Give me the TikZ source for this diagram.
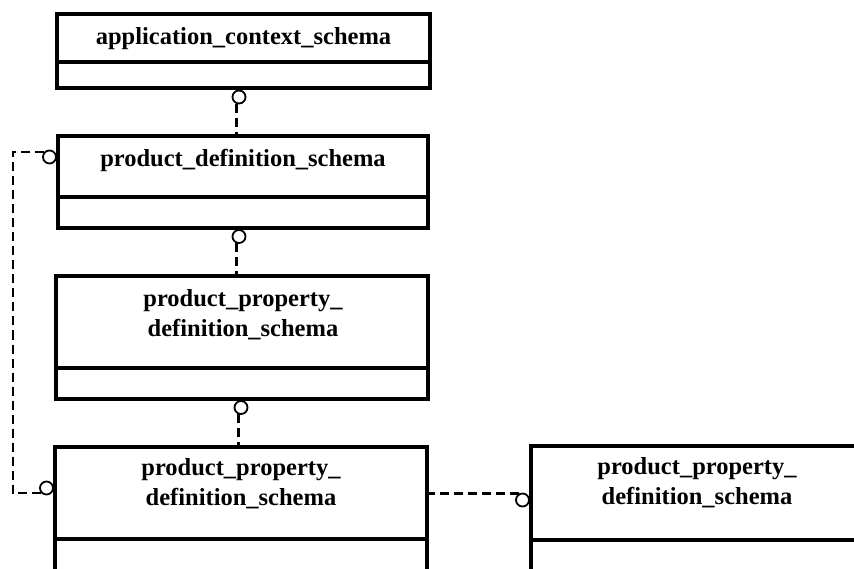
\documentclass[tikz,border=0pt]{standalone}
\usepackage{fontspec}
\setmainfont{Liberation Serif}
\usetikzlibrary{calc}
\begin{document}
\begin{tikzpicture}[x=1pt,y=-1pt,
  comp/.style={draw, line width=3.4pt, rectangle, inner sep=0pt, outer sep=0pt, anchor=north west},
  lbl/.style={font=\fontsize{24.5}{30}\selectfont\bfseries, align=center, inner sep=0pt, anchor=base},
  ball/.style={draw, circle, fill=white, line width=1.8pt, minimum size=13pt, inner sep=0pt},
  conn/.style={dash pattern=on 9pt off 5pt, line width=2.2pt}]
\useasboundingbox (0,0) rectangle (854,569);
% boxes
\node[comp, minimum width=373pt, minimum height=48pt] (b1t) at (57,14) {};
\node[comp, minimum width=373pt, minimum height=26pt] (b1b) at (b1t.south west) {};
\node[comp, minimum width=370pt, minimum height=61pt] (b2t) at (58,136) {};
\node[comp, minimum width=370pt, minimum height=31pt] (b2b) at (b2t.south west) {};
\node[comp, minimum width=372pt, minimum height=92pt] (b3t) at (56,276) {};
\node[comp, minimum width=372pt, minimum height=31pt] (b3b) at (b3t.south west) {};
\node[comp, minimum width=372pt, minimum height=92pt] (b4t) at (55,447) {};
\node[comp, minimum width=372pt, minimum height=32pt] (b4b) at (b4t.south west) {};
\node[comp, minimum width=340pt, minimum height=94pt] (b5t) at (531,446) {};
\node[comp, minimum width=340pt, minimum height=31pt] (b5b) at (b5t.south west) {};
% labels (base = last line's baseline)
\node[lbl] (t1) at (243.5,45) {application\_context\_schema};
\node[lbl] (t2) at (243,167) {product\_definition\_schema};
\node[lbl] (t3) at (243,337) {product\_property\_\\definition\_schema};
\node[lbl] (t4) at (241,505) {product\_property\_\\definition\_schema};
\node[lbl] (t5) at (697,504) {product\_property\_\\definition\_schema};
% circles
\node[ball] (c1) at (239,97) {};
\node[ball] (c2) at (239,236.5) {};
\node[ball] (c3) at (241,407.5) {};
\node[ball] (c4) at (49.5,157) {};
\node[ball] (c5) at (46.5,488) {};
\node[ball] (c6) at (522.5,500) {};
\coordinate (lbus) at (13,320);
% connectors
\draw[conn] (c1.250) -- (c1.250 |- b2t.north);
\draw[conn] (c2.250) -- (c2.250 |- b3t.north);
\draw[conn] (c3.250) -- (c3.250 |- b4t.north);
\draw[conn] (c4.135) -| (lbus) |- (c5.225);
\draw[conn] (c6.120) -- (c6.120 -| b4t.east);
\end{tikzpicture}
\end{document}
